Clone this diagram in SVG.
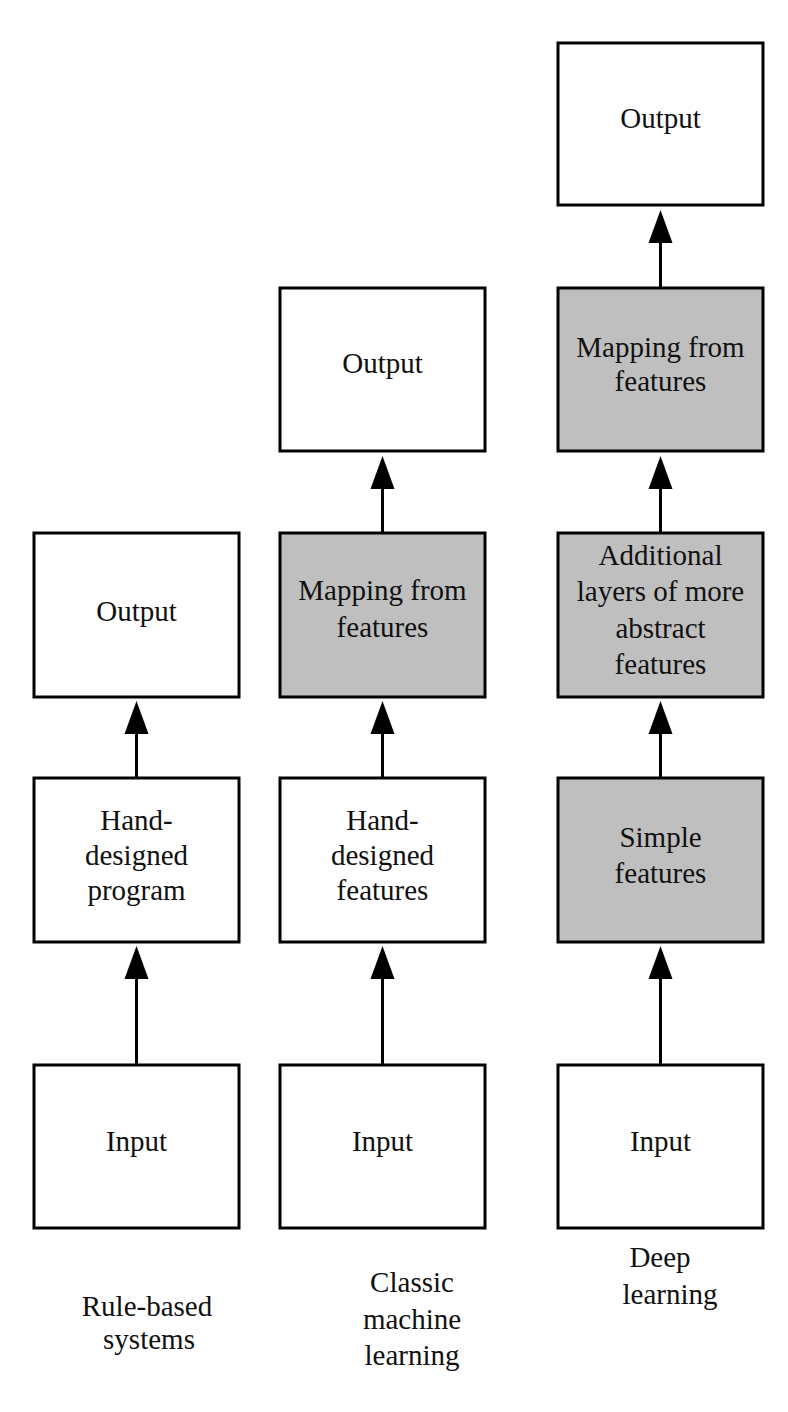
<svg xmlns="http://www.w3.org/2000/svg" width="788" height="1412" viewBox="0 0 788 1412">
<style>
.box{fill:#ffffff;stroke:#000;stroke-width:3}
.gray{fill:#bfbfbf}
.t{font-family:"Liberation Serif","Times New Roman",serif;font-size:29px;fill:#111;text-anchor:middle}
.c{stroke:#000;stroke-width:3;fill:none}
.h{fill:#000}
</style>
<rect width="788" height="1412" fill="#fff"/>
<g id="connectors">
<line class="c" x1="136.5" y1="1065" x2="136.5" y2="975"/><polygon class="h" points="136.5,946 124.5,979 148.5,979"/>
<line class="c" x1="136.5" y1="778" x2="136.5" y2="730"/><polygon class="h" points="136.5,701 124.5,734 148.5,734"/>
<line class="c" x1="382.5" y1="1065" x2="382.5" y2="975"/><polygon class="h" points="382.5,946 370.5,979 394.5,979"/>
<line class="c" x1="382.5" y1="778" x2="382.5" y2="730"/><polygon class="h" points="382.5,701 370.5,734 394.5,734"/>
<line class="c" x1="382.5" y1="533" x2="382.5" y2="485"/><polygon class="h" points="382.5,456 370.5,489 394.5,489"/>
<line class="c" x1="660.5" y1="1065" x2="660.5" y2="975"/><polygon class="h" points="660.5,946 648.5,979 672.5,979"/>
<line class="c" x1="660.5" y1="778" x2="660.5" y2="730"/><polygon class="h" points="660.5,701 648.5,734 672.5,734"/>
<line class="c" x1="660.5" y1="533" x2="660.5" y2="485"/><polygon class="h" points="660.5,456 648.5,489 672.5,489"/>
<line class="c" x1="660.5" y1="288" x2="660.5" y2="240"/><polygon class="h" points="660.5,210 648.5,243 672.5,243"/>
</g>
<g id="rb-output"><rect class="box" x="34" y="533" width="205" height="164"/><text class="t" x="136.5" y="621">Output</text></g>
<g id="rb-program"><rect class="box" x="34" y="778" width="205" height="164"/><text class="t" x="136.5" y="830">Hand-</text><text class="t" x="136.5" y="865">designed</text><text class="t" x="136.5" y="900">program</text></g>
<g id="rb-input"><rect class="box" x="34" y="1065" width="205" height="163"/><text class="t" x="136.5" y="1151">Input</text></g>
<g id="cm-output"><rect class="box" x="280" y="288" width="205" height="163"/><text class="t" x="382.5" y="373">Output</text></g>
<g id="cm-mapping"><rect class="box gray" x="280" y="533" width="205" height="164"/><text class="t" x="382.5" y="600">Mapping from</text><text class="t" x="382.5" y="637">features</text></g>
<g id="cm-features"><rect class="box" x="280" y="778" width="205" height="164"/><text class="t" x="382.5" y="830">Hand-</text><text class="t" x="382.5" y="865">designed</text><text class="t" x="382.5" y="900">features</text></g>
<g id="cm-input"><rect class="box" x="280" y="1065" width="205" height="163"/><text class="t" x="382.5" y="1151">Input</text></g>
<g id="dl-output"><rect class="box" x="558" y="43" width="205" height="162"/><text class="t" x="660.5" y="128">Output</text></g>
<g id="dl-mapping"><rect class="box gray" x="558" y="288" width="205" height="163"/><text class="t" x="660.5" y="357">Mapping from</text><text class="t" x="660.5" y="391">features</text></g>
<g id="dl-abstract"><rect class="box gray" x="558" y="533" width="205" height="164"/><text class="t" x="660.5" y="565">Additional</text><text class="t" x="660.5" y="601">layers of more</text><text class="t" x="660.5" y="638">abstract</text><text class="t" x="660.5" y="674">features</text></g>
<g id="dl-simple"><rect class="box gray" x="558" y="778" width="205" height="164"/><text class="t" x="660.5" y="847">Simple</text><text class="t" x="660.5" y="883">features</text></g>
<g id="dl-input"><rect class="box" x="558" y="1065" width="205" height="163"/><text class="t" x="660.5" y="1151">Input</text></g>
<g id="labels">
<text class="t" x="147" y="1316">Rule-based</text><text class="t" x="149" y="1349">systems</text>
<text class="t" x="412" y="1292">Classic</text><text class="t" x="412" y="1329">machine</text><text class="t" x="412" y="1365">learning</text>
<text class="t" x="660" y="1267">Deep</text><text class="t" x="670" y="1304">learning</text>
</g>
</svg>
